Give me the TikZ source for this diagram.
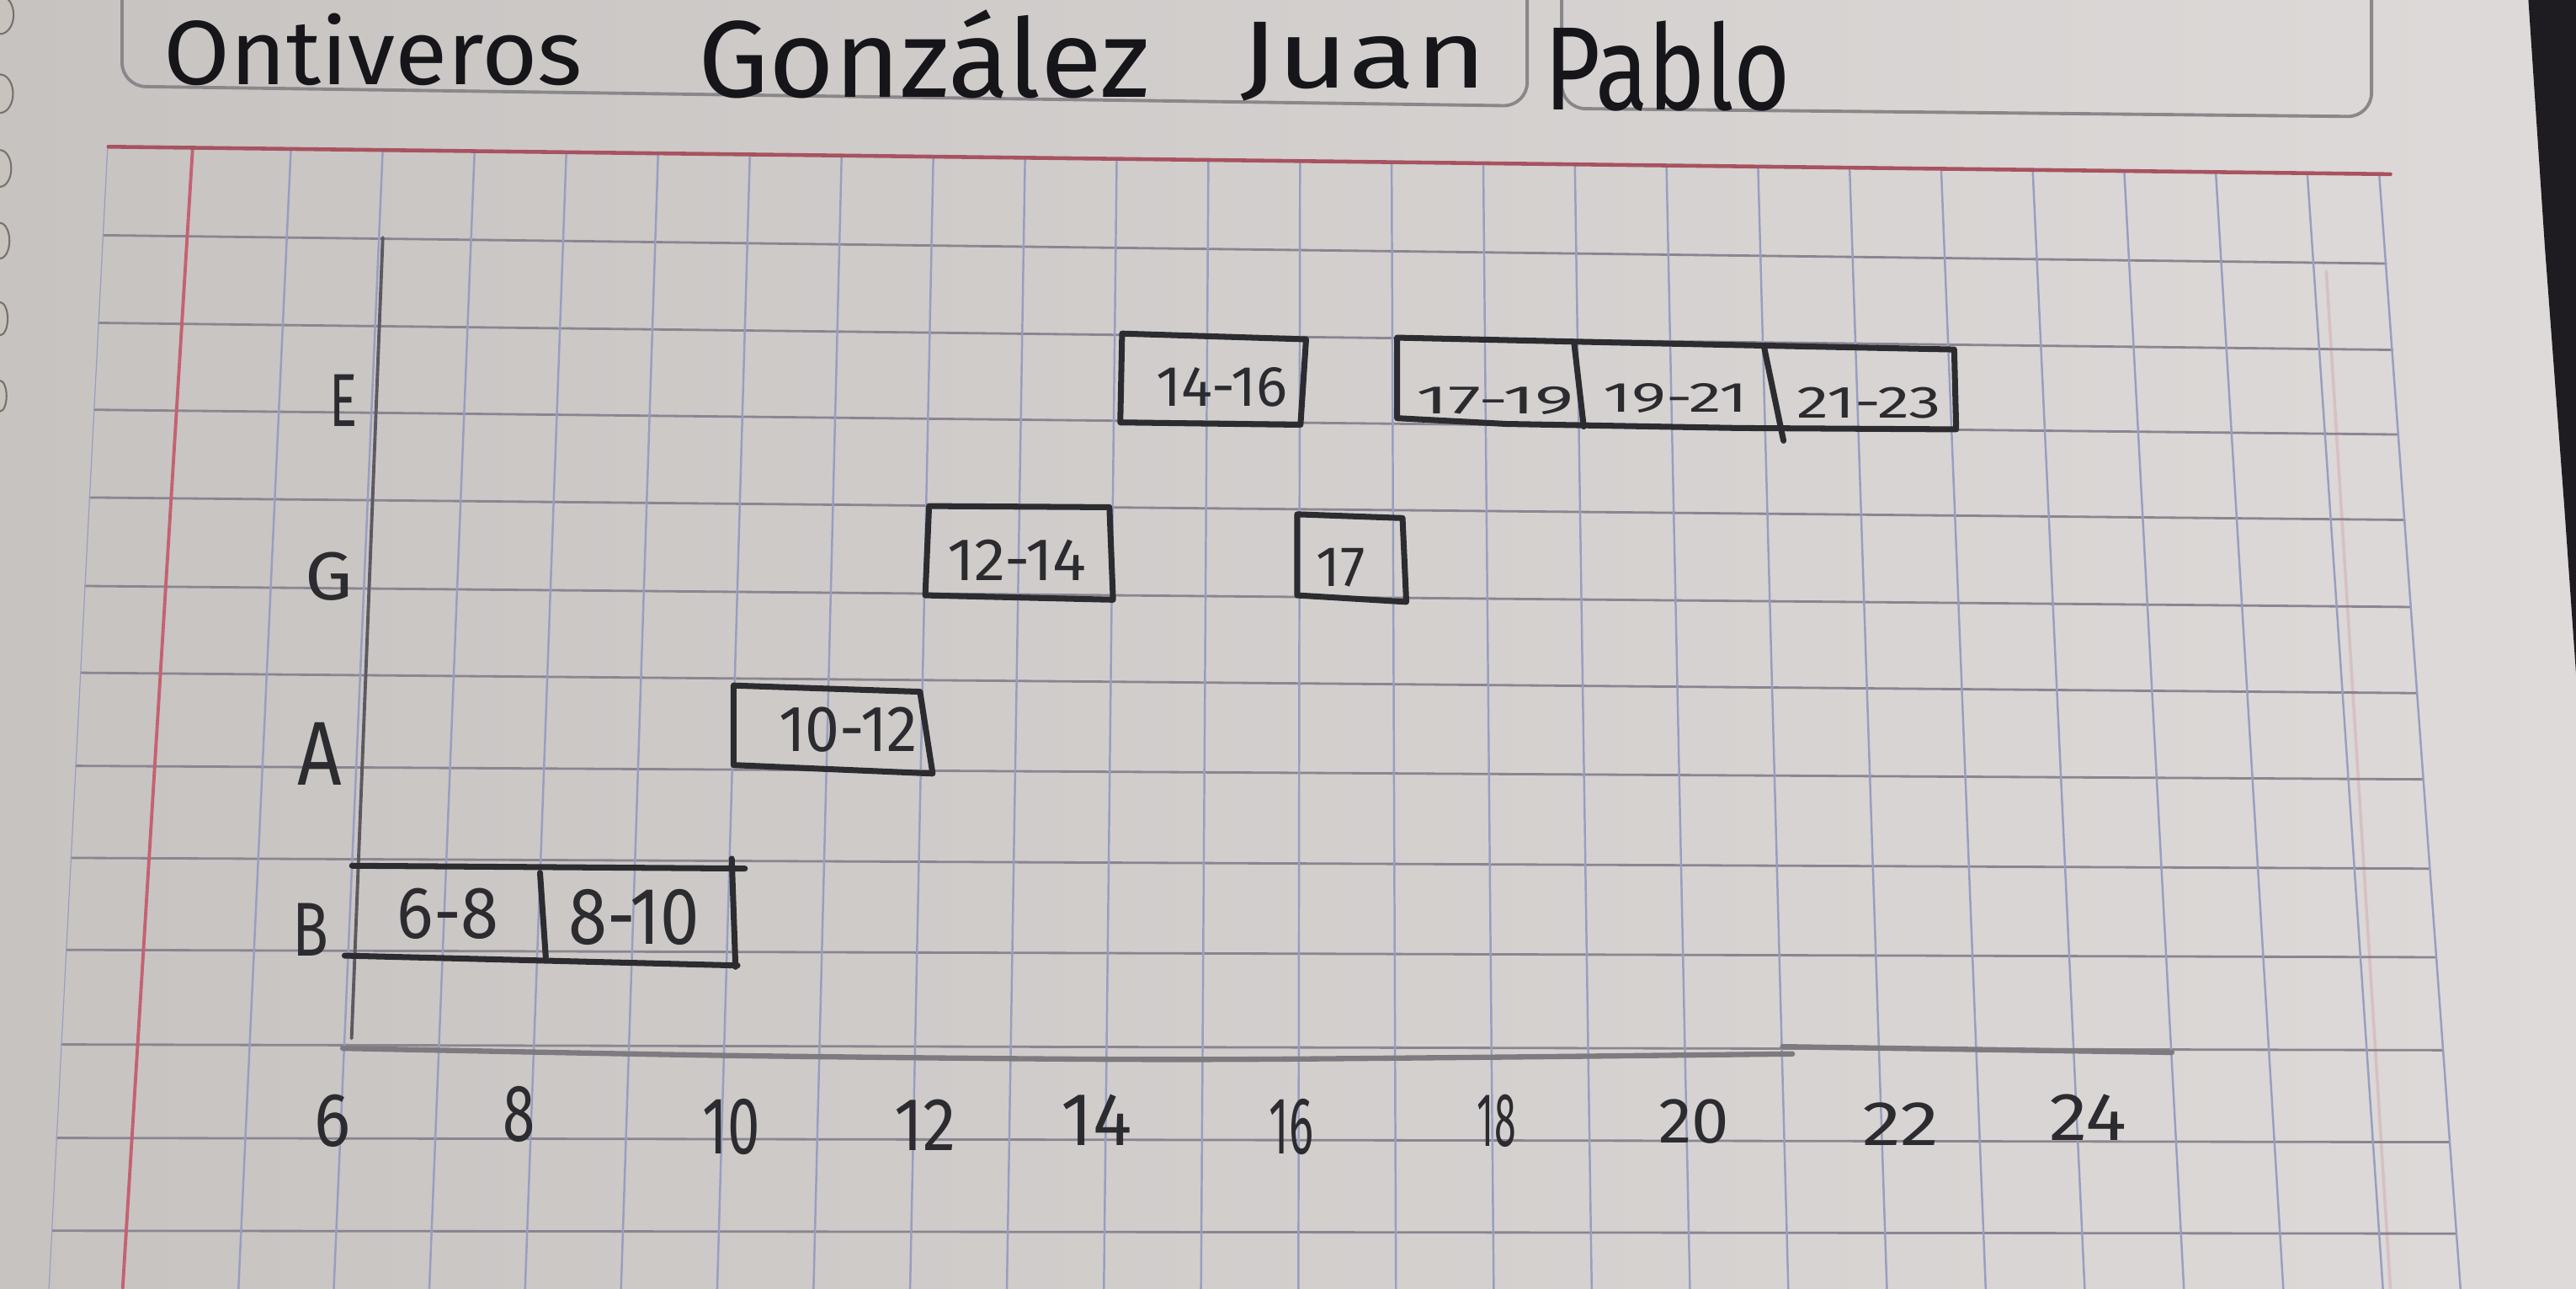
\documentclass[tikz,border=0pt]{standalone}
\usepackage{fontspec}
\newfontfamily\handfont{Fira Sans}
\usetikzlibrary{calc}
\newlength\px
\setlength\px{0.5553pt}
% text fitted into a box of given width and total height (in px units)
\newcommand\hand[3]{\resizebox*{#1\px}{#2\px}{\handfont #3}}

\definecolor{cPaperA}{RGB}{221,218,217}
\definecolor{cPaperB}{RGB}{199,195,193}
\definecolor{cGridV}{RGB}{152,158,192}
\definecolor{cGridH}{RGB}{138,133,144}
\definecolor{cMargin}{RGB}{196,98,114}
\definecolor{cMarginTop}{RGB}{168,82,96}
\definecolor{cPencil}{RGB}{44,44,48}
\definecolor{cPencilLight}{RGB}{92,90,96}
\definecolor{cInk}{RGB}{22,22,26}
\definecolor{cFrame}{RGB}{138,135,138}
\definecolor{cDesk}{RGB}{30,28,32}
\definecolor{cHole}{RGB}{200,195,189}
\definecolor{cHoleRim}{RGB}{120,114,108}

\begin{document}
\begin{tikzpicture}[x=0.5553pt,y=-0.5553pt,line cap=round,line join=round,
  vline/.style={draw=cGridV,line width=0.7pt},
  hline/.style={draw=cGridH,line width=0.8pt},
  bar/.style={draw=cPencil,line width=2pt},
  axisline/.style={draw=cPencilLight,line width=1.3pt},
  lbl/.style={inner sep=0pt,text=cPencil},
  ticklbl/.style={inner sep=0pt,text=cPencil},
  titletext/.style={inner sep=0pt,text=cInk},
  headerframe/.style={draw=cFrame,line width=1.1pt}]

\useasboundingbox (0,0) rectangle (1568,784);

% sheet of paper
\shade[left color=cPaperB,right color=cPaperA] (0,0) rectangle (1568,784);
% desk showing past the page corner
\fill[cDesk] (1539,0) -- (1568,0) -- (1568,410) -- (1561,310) -- (1549,150) -- cycle;

% torn spiral holes along the left edge
\foreach \yy/\rx/\ry in {9/4.6/6.5, 57/4.4/6.5, 102.5/3.8/6.2, 146.5/3.2/6, 194/2.6/5.6, 241/2.2/5.2}{
  \fill[cHole] (0,\yy) ellipse [x radius=\rx pt,y radius=\ry pt];
  \draw[cHoleRim,line width=0.6pt] (0,\yy) ellipse [x radius=\rx pt,y radius=\ry pt];
}

% header frames
\draw[headerframe,rounded corners=8pt] (74.3,-5) -- (74.3,52.5) -- (929.6,64.5) -- (929.6,-5);
\draw[headerframe,rounded corners=8pt] (950.6,-5) -- (950.6,66) -- (1443.5,71) -- (1443.5,-5);

% squared grid
\begin{scope}
  \clip (65.2,89.2) -- (1449,106) -- (1498.8,800) -- (28.7,800) -- cycle;
  \foreach \a/\b in {144.5/160,197.8/212.5,250.6/264,303.9/316,357.7/369,410.5/421.4,
                     466.8/474,522.7/528.4,578.5/582.4,636/639,692.8/695,749.2/750.7}{
    \pgfmathsetmacro\yl{\a-(\b-\a)*0.136}
    \pgfmathsetmacro\yr{\a+(\b-\a)*1.1184}
    \draw[hline] (0,\yl) -- (1568,\yr);
  }
  \foreach \k in {-2,0,1,...,22}{
    \pgfmathsetmacro\xo{173+56.2*\k}
    \pgfmathsetmacro\tq{(\xo-173)/1275}
    \pgfmathsetmacro\tl{-0.046+0.0664*\tq+0.0526*\tq*\tq}
    \pgfmathsetmacro\xa{\xo-99*\tl}
    \pgfmathsetmacro\xb{\xo+621*\tl}
    \draw[vline] (\xa,80) -- (\xb,800);
  }
\end{scope}
\draw[vline] (1448.2,106) -- (1498.8,800);
% ink from the other side of the sheet
\draw[cMargin,opacity=0.2,line width=1pt] (1416,165) -- (1455,784);

% margins
\draw[cMargin,line width=1.1pt] (117.3,89.5) -- (74.7,784);
\draw[cMarginTop,line width=1.3pt] (66,89.3) -- (1455,106);

% title
\node[titletext] (wOnt) at (227,30)   {\hand{255}{44}{Ontiveros}};
\node[titletext] (wGon) at (562.5,33) {\hand{275}{54}{González}};
\node[titletext] (wJua) at (830,37.6) {\hand{150}{48}{Juan}};
\node[titletext] (wPab) at (1015,40)  {\hand{150}{55}{Pablo}};

% axes
\draw[axisline,line width=1.1pt] (233,144.5) -- (214,632);
\draw[axisline,line width=1.8pt,draw=cPencilLight!80!white]
  plot[smooth] coordinates {(208.6,638) (450,642.5) (702.8,644.8) (900,643.5) (1091,641.4)};
\draw[axisline,line width=1.8pt,draw=cPencilLight!80!white] (1085,637) -- (1322,640.5);

% row labels
\node[lbl] (rowE) at (209,244)   {\hand{17}{31.5}{E}};
\node[lbl] (rowG) at (200,351)   {\hand{29}{29.5}{G}};
\node[lbl] (rowA) at (194.7,459) {\hand{27}{38}{A}};
\node[lbl] (rowB) at (189,566)   {\hand{22}{32}{B}};

% hour labels
\node[ticklbl] (h6)  at (202.4,682)  {\hand{22}{32}{6}};
\node[ticklbl] (h8)  at (316,678)    {\hand{19.6}{34}{8}};
\node[ticklbl] (h10) at (445,686)    {\hand{35}{34}{10}};
\node[ticklbl] (h12) at (563,684.5)  {\hand{37.6}{31}{12}};
\node[ticklbl] (h14) at (667.5,681.5){\hand{43}{31}{14}};
\node[ticklbl] (h16) at (786,686)    {\hand{27}{34}{16}};
\node[ticklbl] (h18) at (911,682)    {\hand{23.5}{32}{18}};
\node[ticklbl] (h20) at (1031,682.5) {\hand{43}{27}{20}};
\node[ticklbl] (h22) at (1157,684)   {\hand{47}{26}{22}};
\node[ticklbl] (h24) at (1271,680)   {\hand{47}{28}{24}};

% row E
\draw[bar] (683,203) -- (795,206.5) -- (791.6,258.5) -- (681.9,257.1) -- cycle;
\draw[bar] (850.4,205.5) -- (979.8,208.4) -- (1189.5,212.7) -- (1190.7,261.3)
  -- (1058,260.5) -- (917,258) -- (850.4,254.5) -- cycle;
\draw[bar] (958.2,209.2) -- (964,259.6);
\draw[bar] (1073.9,211.8) -- (1085.6,268.2);
\node[lbl] (e1416) at (743.6,235.7) {\hand{80}{24}{14-16}};
\node[lbl] (e1719) at (910,243.8)   {\hand{96}{17}{17-19}};
\node[lbl] (e1921) at (1020,242.2)  {\hand{88}{18}{19-21}};
\node[lbl] (e2123) at (1137.6,245)  {\hand{88}{19}{21-23}};

% row G
\draw[bar] (565.5,308) -- (675.3,308.7) -- (677.5,365) -- (563.2,362.3) -- cycle;
\draw[bar] (789.6,313) -- (853.7,315.3) -- (856,366.3) -- (789.6,362.3) -- cycle;
\node[lbl] (g1214) at (619,340.8) {\hand{84.6}{24.8}{12-14}};
\node[lbl] (g17)   at (816,345.3) {\hand{29.7}{23.5}{17}};

% row A
\draw[bar] (446.5,417.2) -- (560,421) -- (567.7,470.8) -- (446.5,465.6) -- cycle;
\node[lbl] (a1012) at (516.3,444) {\hand{84.6}{27.4}{10-12}};

% row B
\draw[bar] (214.3,526.9) -- (453.4,528.6);
\draw[bar] (445.4,522.6) -- (447.7,588.4);
\draw[bar] (209.8,581.6) -- (448.9,587.6);
\draw[bar] (328.7,531.2) -- (332.2,582.4);
\node[lbl] (b68)  at (272.7,556) {\hand{62}{31}{6-8}};
\node[lbl] (b810) at (386,558)   {\hand{80}{34}{8-10}};

\end{tikzpicture}
\end{document}
